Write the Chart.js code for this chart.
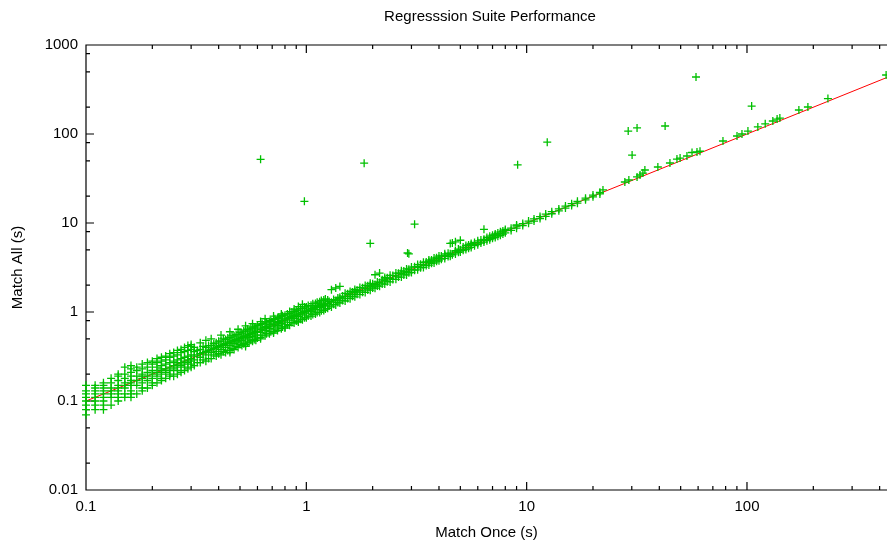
<!DOCTYPE html>
<html><head><meta charset="utf-8">
<script src="https://cdn.jsdelivr.net/npm/chart.js@4.4.1/dist/chart.umd.min.js"></script>
<style>
html,body{margin:0;padding:0;background:#fff;overflow:hidden}
#wrap{width:887px;height:543px;position:relative}
</style>
</head><body><div id="wrap"><canvas id="c"></canvas></div>
<script>
const chartTitle = 'Regresssion Suite Performance';
const xAxisTitle = 'Match Once (s)';
const yAxisTitle = 'Match All (s)';
const xTickValues = [0.1, 1, 10, 100];
const xTickLabels = ['0.1', '1', '10', '100'];
const yTickValues = [0.01, 0.1, 1, 10, 100, 1000];
const yTickLabels = ['0.01', '0.1', '1', '10', '100', '1000'];
const xMinorSteps = [2, 3, 4, 5, 6, 7, 8, 9];
const yMinorSteps = [2, 5, 8];
const xRange = [0.1, 432];
const yRange = [0.01, 1000];

// reference line y = x
const fitX = [0.1, 432];
const fitY = [0.1, 432];

// measured runs, grouped by "Match Once" column; each column lists its "Match All" values
const onceA = [0.10, 0.11, 0.12, 0.13, 0.14, 0.15, 0.16];
const allA = [
  [0.07,0.08,0.09,0.10,0.11,0.12,0.13,0.15],
  [0.08,0.09,0.10,0.11,0.12,0.13,0.14,0.15],
  [0.08,0.09,0.10,0.11,0.12,0.13,0.14,0.15,0.16],
  [0.09,0.11,0.12,0.13,0.14,0.16,0.18],
  [0.10,0.11,0.12,0.13,0.14,0.15,0.17,0.19,0.20],
  [0.11,0.12,0.14,0.15,0.16,0.18,0.20,0.24],
  [0.11,0.12,0.13,0.15,0.16,0.17,0.19,0.21,0.23,0.25]
];
const onceB = [0.17, 0.18, 0.19, 0.20, 0.21, 0.22, 0.23, 0.24, 0.25, 0.26, 0.27, 0.28, 0.29, 0.30];
const allB = [
  [0.12,0.15,0.17,0.19,0.22,0.24],
  [0.13,0.14,0.16,0.18,0.19,0.20,0.23,0.26],
  [0.14,0.17,0.19,0.21,0.24,0.27],
  [0.15,0.16,0.18,0.20,0.22,0.26,0.28],
  [0.16,0.19,0.21,0.24,0.27,0.30],
  [0.17,0.18,0.20,0.22,0.23,0.25,0.28,0.31],
  [0.18,0.21,0.23,0.26,0.29,0.32],
  [0.19,0.20,0.22,0.24,0.27,0.31,0.34],
  [0.19,0.23,0.25,0.28,0.32,0.35],
  [0.20,0.22,0.24,0.26,0.27,0.29,0.33,0.37],
  [0.21,0.25,0.27,0.30,0.35,0.38],
  [0.22,0.24,0.26,0.28,0.31,0.36,0.40],
  [0.23,0.27,0.29,0.32,0.37,0.42],
  [0.24,0.26,0.28,0.30,0.33,0.38,0.41,0.43]
];
const onceC = [0.31, 0.33, 0.35, 0.37, 0.39, 0.41, 0.43, 0.45, 0.47, 0.49, 0.51, 0.53, 0.55, 0.57, 0.59];
const allC = [
  [0.25,0.29,0.32,0.36,0.40],
  [0.27,0.31,0.34,0.38,0.45],
  [0.28,0.33,0.36,0.40,0.48],
  [0.30,0.35,0.38,0.42,0.50],
  [0.32,0.36,0.40,0.45],
  [0.33,0.38,0.42,0.47,0.55],
  [0.35,0.40,0.44,0.49],
  [0.35,0.37,0.42,0.46,0.52,0.60],
  [0.38,0.44,0.48,0.54],
  [0.40,0.46,0.50,0.56,0.64],
  [0.42,0.48,0.52,0.58],
  [0.41,0.43,0.50,0.54,0.61,0.70],
  [0.45,0.52,0.56,0.63],
  [0.47,0.53,0.58,0.66,0.74],
  [0.48,0.55,0.60,0.68]
];
const onceC2 = [0.32, 0.34, 0.36, 0.38, 0.40, 0.42, 0.44, 0.46, 0.48, 0.50, 0.52, 0.54, 0.56, 0.58, 0.60];
const allC2 = [
  [0.27,0.33,0.37],[0.29,0.35,0.41],[0.30,0.37,0.42],[0.33,0.39,0.44],[0.34,0.41,0.47],
  [0.36,0.43,0.50],[0.37,0.45,0.51],[0.39,0.47,0.54],[0.41,0.49,0.56],[0.43,0.51,0.59],
  [0.44,0.53,0.61],[0.46,0.55,0.64],[0.48,0.57,0.66],[0.49,0.59,0.68],[0.51,0.61,0.71]
];
const onceD = [0.62, 0.65, 0.68, 0.71, 0.74, 0.77, 0.80, 0.84, 0.88, 0.92, 0.96, 1.00, 1.05, 1.10, 1.15, 1.20];
const allD = [
  [0.50,0.52,0.59,0.64,0.72,0.78],
  [0.54,0.62,0.67,0.75,0.84],
  [0.57,0.65,0.70,0.78],
  [0.58,0.60,0.68,0.73,0.82,0.90],
  [0.62,0.71,0.76,0.85],
  [0.65,0.74,0.80,0.89,0.95],
  [0.66,0.68,0.77,0.83,0.92],
  [0.71,0.81,0.87,0.96,1.01],
  [0.75,0.85,0.91,1.01,1.08],
  [0.77,0.79,0.89,0.95,1.05,1.15],
  [0.82,0.93,0.99,1.10,1.22],
  [0.86,0.97,1.03,1.14],
  [0.90,1.02,1.05,1.08,1.19],
  [0.95,1.07,1.13,1.25],
  [0.99,1.12,1.15,1.18,1.30],
  [1.04,1.17,1.20,1.23,1.36]
];
const onceD2 = [0.63, 0.66, 0.69, 0.72, 0.75, 0.78, 0.82, 0.86, 0.90, 0.94, 0.98, 1.02, 1.07, 1.12, 1.17, 1.22];
const allD2 = [
  [0.55,0.66,0.74],[0.57,0.69,0.77],[0.60,0.72,0.80],[0.63,0.75,0.84],
  [0.66,0.78,0.87],[0.68,0.81,0.91],[0.72,0.85,0.95],[0.76,0.89,1.00],
  [0.79,0.93,1.05],[0.83,0.97,1.09],[0.86,1.01,1.14],[0.90,1.05,1.18],
  [0.94,1.10,1.24],[0.99,1.16,1.29],[1.03,1.21,1.35],[1.08,1.26,1.40]
];
const onceE = [1.25, 1.30, 1.36, 1.42, 1.50, 1.58, 1.66, 1.75, 1.85, 1.95, 2.05, 2.15, 2.27, 2.40, 2.55, 2.70, 2.85];
const allE = [
  [1.10,1.24,1.36],
  [1.14,1.29,1.78],
  [1.20,1.35,1.86],
  [1.26,1.41,1.46,1.94],
  [1.33,1.49,1.62],
  [1.41,1.57,1.70],
  [1.48,1.65,1.70,1.79],
  [1.57,1.74,1.89],
  [1.66,1.84,1.99],
  [1.76,1.94,2.00,2.10],
  [1.85,2.04,2.62],
  [1.95,2.14,2.74],
  [2.06,2.26,2.35,2.44],
  [2.18,2.39,2.58],
  [2.33,2.54,2.74],
  [2.47,2.69,2.75,2.90],
  [2.61,2.84,3.05]
];
const onceE2 = [1.27, 1.33, 1.39, 1.46, 1.54, 1.62, 1.70, 1.80, 1.90, 2.00, 2.10, 2.21, 2.33, 2.47, 2.62, 2.77, 2.92];
const allE2 = [
  [1.17,1.31],[1.22,1.38],[1.28,1.44],[1.35,1.51],[1.42,1.60],[1.50,1.68],[1.58,1.76],[1.67,1.87],
  [1.77,1.97],[1.86,2.08],[1.96,2.18],[2.07,2.30],[2.19,2.42],[2.32,2.57],[2.47,2.72],[2.61,2.88],[2.76,3.03]
];
const onceF = [3.0, 3.2, 3.4, 3.6, 3.8, 4.0, 4.25, 4.5, 4.75, 5.0, 5.3, 5.6, 6.0, 6.4, 6.8, 7.2, 7.6];
const allF = [
  [2.78,3.00,3.20],
  [2.98,3.19,3.26,3.41],
  [3.17,3.39,3.62],
  [3.37,3.60,3.70,3.83],
  [3.56,3.79,4.04],
  [3.76,3.99,4.25],
  [4.00,4.24,4.35,4.51],
  [4.24,4.50,5.90],
  [4.49,4.74,4.90,6.15],
  [4.73,4.99,6.40],
  [5.03,5.30,5.60],
  [5.32,5.60,5.70,5.90],
  [5.71,6.00,6.30],
  [6.10,6.40,6.55,8.50],
  [6.49,6.80,7.12],
  [6.88,7.20,7.35,7.52],
  [7.27,7.60,7.95]
];
const onceF2 = [3.1, 3.3, 3.5, 3.7, 3.9, 4.1, 4.4, 4.6, 4.9, 5.15, 5.45, 5.8, 6.2, 6.6, 7.0, 7.4, 7.8];
const allF2 = [
  [2.95,3.22],[3.14,3.43],[3.33,3.64],[3.53,3.85],[3.72,4.06],[3.92,4.27],[4.21,4.58],[4.40,5.95],
  [4.69,5.10],[4.93,5.36],[5.22,5.67],[5.56,6.04],[5.95,6.45],[6.33,6.87],[6.72,7.28],[7.11,7.70],[7.50,8.11]
];
const onceG = [8.0, 8.5, 9.0, 9.6, 10.2, 10.8, 11.5, 12.2, 13.0, 14.0, 15.0, 16.0, 17.0, 18.5, 20.0, 21.5];
const allG = [
  [7.75,8.20,8.45],[8.25,8.75],[8.75,9.25,9.50],[9.35,9.85],[9.95,10.5],[10.5,11.1],[11.2,11.8],[11.9,12.6],
  [12.7,13.4],[13.7,14.4],[14.7,15.5],[15.7,16.5],[16.7,17.5],[18.2,19.0],[19.7,20.6],[21.2,22.1]
];
// long-running tests near the diagonal
const onceLong = [22.2, 27.9, 29.1, 31.7, 32.7, 33.7, 34.4, 39.4, 44.7, 48.1, 49.7, 53.4, 56.3, 59.3, 61.2, 77.8, 90.1, 94.9, 101, 112, 121, 131, 137, 141, 172, 189, 233, 428];
const allLong  = [23.5, 28.9, 30.4, 32.9, 34.6, 36.4, 39.4, 42.6, 47.2, 52.3, 53.7, 56.6, 62.0, 62.8, 64.0, 83.4, 95.0, 100, 108, 120, 130, 140, 147, 151, 186, 201, 250, 460];
// outliers
const onceOut = [0.62, 1.83, 0.98, 1.95, 3.1, 2.88, 2.92, 9.1, 12.4, 28.9, 31.7, 30.1, 42.5, 58.7, 105];
const allOut  = [52, 47, 17.5, 5.9, 9.7, 4.6, 4.5, 45, 81, 108, 117, 58, 123, 437, 206];

const points = [];
[[onceA, allA], [onceB, allB], [onceC, allC], [onceC2, allC2], [onceD, allD], [onceD2, allD2],
 [onceE, allE], [onceE2, allE2], [onceF, allF], [onceF2, allF2], [onceG, allG]].forEach(([xs, ys]) => {
  xs.forEach((xv, i) => ys[i].forEach(yv => points.push({x: xv, y: yv})));
});
onceLong.forEach((xv, i) => points.push({x: xv, y: allLong[i]}));
onceOut.forEach((xv, i) => points.push({x: xv, y: allOut[i]}));
const fitPoints = fitX.map((xv, i) => ({x: xv, y: fitY[i]}));

const FONT = 'Liberation Sans, Arial, Helvetica, sans-serif';

const gnuplotAxes = {
  id: 'gnuplotAxes',
  beforeDatasetsDraw(chart) {
    const {ctx, chartArea: a, scales: {x, y}} = chart;
    ctx.save();
    ctx.strokeStyle = '#000';
    ctx.lineWidth = 1.2;
    ctx.beginPath();
    ctx.moveTo(a.right + 2, a.top); ctx.lineTo(a.left, a.top); ctx.lineTo(a.left, a.bottom); ctx.lineTo(a.right + 2, a.bottom);
    const seg = (x1, y1, x2, y2) => { ctx.moveTo(x1, y1); ctx.lineTo(x2, y2); };
    for (let d = -3; d <= 3; d++) {
      const base = Math.pow(10, d);
      if (base >= xRange[0] && base <= xRange[1]) {
        const px = x.getPixelForValue(base);
        seg(px, a.bottom, px, a.bottom - 8); seg(px, a.top, px, a.top + 8);
      }
      xMinorSteps.forEach(m => {
        const v = m * base;
        if (v > xRange[0] && v < xRange[1]) {
          const px = x.getPixelForValue(v);
          seg(px, a.bottom, px, a.bottom - 4); seg(px, a.top, px, a.top + 4);
        }
      });
      if (base >= yRange[0] && base <= yRange[1]) {
        const py = y.getPixelForValue(base);
        seg(a.left, py, a.left + 8, py);
      }
      yMinorSteps.forEach(m => {
        const v = m * base;
        if (v > yRange[0] && v < yRange[1]) {
          const py = y.getPixelForValue(v);
          seg(a.left, py, a.left + 4, py);
        }
      });
    }
    ctx.stroke();
    ctx.restore();
  },
  afterDraw(chart) {
    const {ctx, chartArea: a} = chart;
    ctx.save();
    ctx.fillStyle = '#000';
    ctx.font = '15px ' + FONT;
    ctx.textAlign = 'center';
    ctx.textBaseline = 'middle';
    ctx.fillText(chartTitle, a.left + 404, 17);
    ctx.restore();
  }
};

new Chart(document.getElementById('c'), {
  type: 'scatter',
  data: {
    datasets: [
      {
        label: 'fit', type: 'line', data: fitPoints,
        borderColor: '#ff0000', borderWidth: 1, pointRadius: 0, fill: false, clip: false, order: 2
      },
      {
        label: 'runs', data: points,
        pointStyle: 'cross', pointRadius: 4, pointHoverRadius: 4,
        borderColor: 'rgb(0,192,0)', backgroundColor: 'rgb(0,192,0)', pointBorderWidth: 1.3,
        clip: false, order: 1
      }
    ]
  },
  options: {
    responsive: true, maintainAspectRatio: false, animation: false, devicePixelRatio: 1,
    layout: {autoPadding: false, padding: {top: 45, right: 0, bottom: 0, left: 0}},
    plugins: {legend: {display: false}, title: {display: false}, tooltip: {enabled: false}},
    events: [],
    scales: {
      x: {
        type: 'logarithmic', position: 'bottom', min: xRange[0], max: xRange[1],
        grid: {display: false, drawTicks: false}, border: {display: false},
        afterBuildTicks: s => { s.ticks = xTickValues.map(v => ({value: v})); },
        afterFit: s => { s.height = 53; },
        ticks: {autoSkip: false, maxRotation: 0, padding: 8, color: '#000', font: {family: FONT, size: 15},
          callback: (v, i) => xTickLabels[i]},
        title: {display: true, text: xAxisTitle, color: '#000', font: {family: FONT, size: 15}, padding: {top: 0, bottom: 1}}
      },
      y: {
        type: 'logarithmic', position: 'left', min: yRange[0], max: yRange[1],
        grid: {display: false, drawTicks: false}, border: {display: false},
        afterBuildTicks: s => { s.ticks = yTickValues.map(v => ({value: v})); },
        afterFit: s => { s.width = 86; },
        ticks: {autoSkip: false, padding: 8, color: '#000', font: {family: FONT, size: 15},
          callback: (v, i) => yTickLabels[i]},
        title: {display: true, text: yAxisTitle, color: '#000', font: {family: FONT, size: 15}, padding: {top: 9, bottom: 0}}
      }
    }
  },
  plugins: [gnuplotAxes]
});
</script>
</body></html>
